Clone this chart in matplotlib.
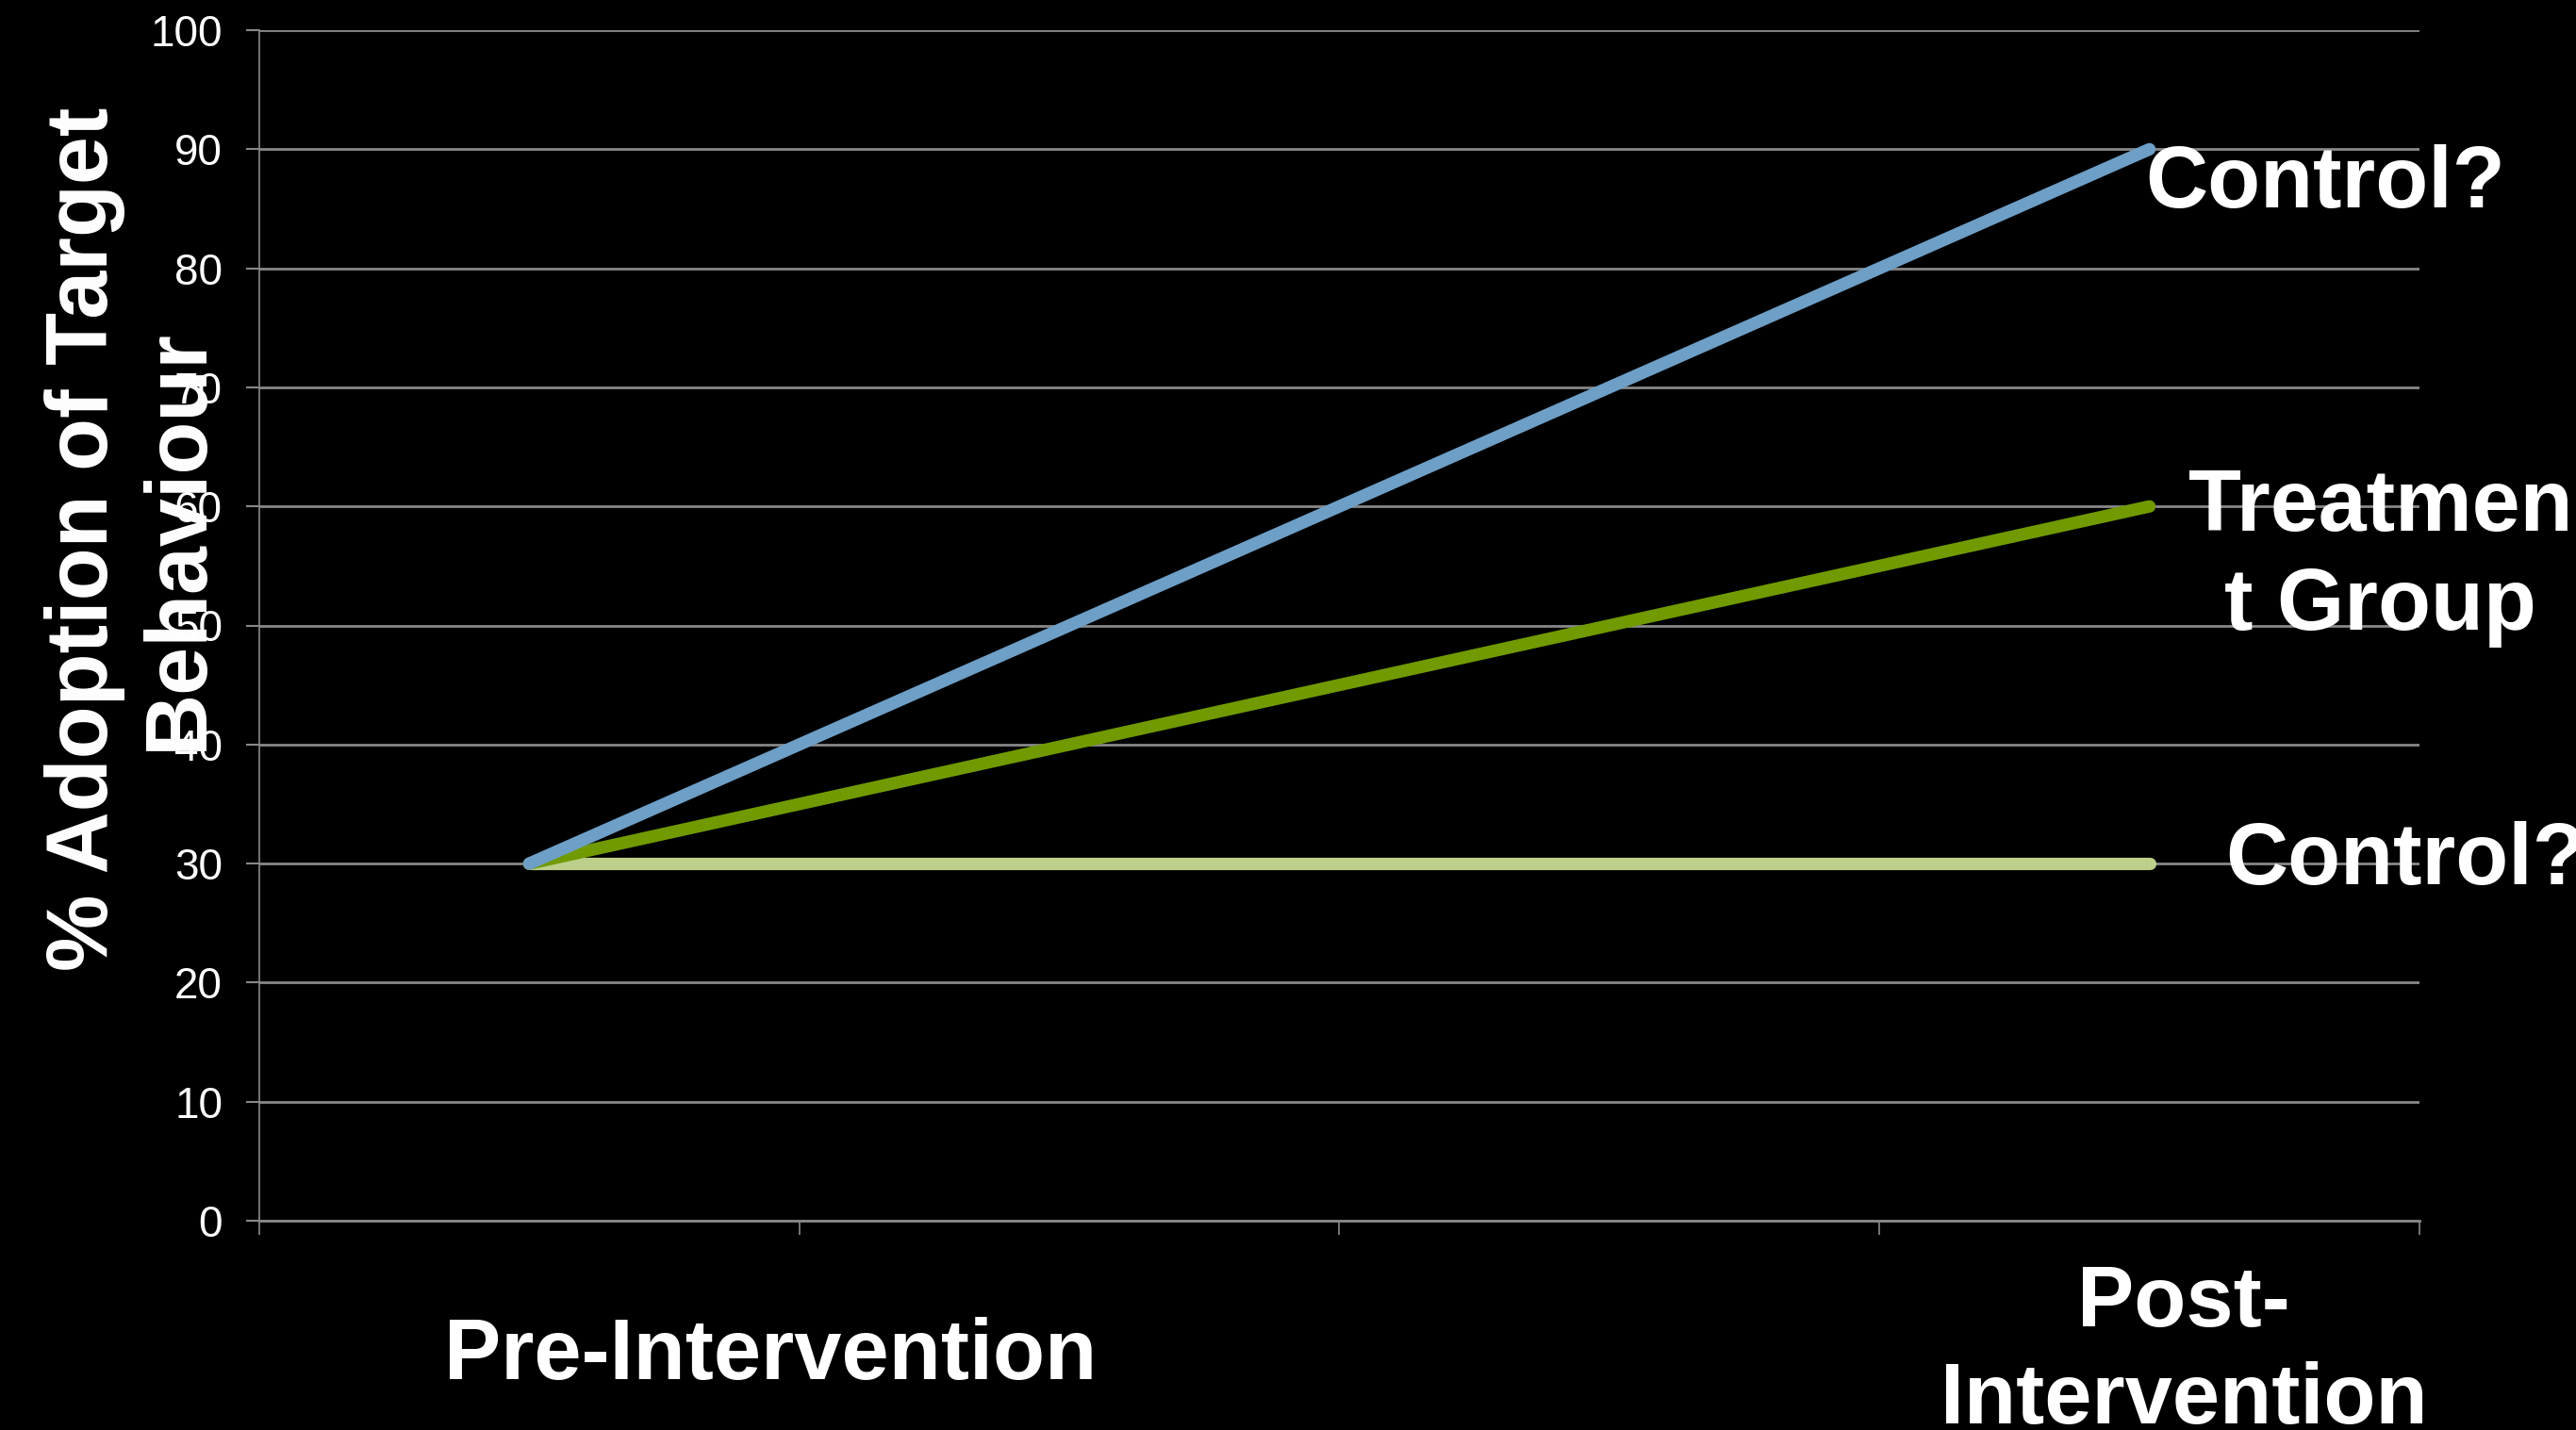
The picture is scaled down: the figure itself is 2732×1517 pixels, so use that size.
import matplotlib.pyplot as plt
import numpy as np

plt.rcParams['font.family'] = ['Liberation Sans', 'DejaVu Sans']

# four evenly spaced time points, only the first and last are named
stages = ['', '', '', '']
control_up = [30, 50, 70, 90]
treatment = [30, 40, 50, 60]
control_flat = [30, 30, 30, 30]

yticks = list(range(0, 101, 10))

W, H = 2732, 1517
fig = plt.figure(figsize=(W / 100, H / 100), dpi=100, facecolor='black')
ax = fig.add_axes([275 / W, 1 - 1295 / H, (2566 - 275) / W, (1295 - 32) / H])
ax.set_facecolor('black')

x = np.arange(len(stages))
ax.plot(x, control_flat, color='#bccf8b', lw=9.5, solid_capstyle='round', zorder=3)
ax.plot(x, treatment, color='#709a00', lw=9.5, solid_capstyle='round', zorder=4)
ax.plot(x, control_up, color='#6d9fc7', lw=9.5, solid_capstyle='round', zorder=5)

ax.set_xlim(-0.5, len(stages) - 0.5)
ax.set_ylim(0, 100)
ax.set_xticks(np.arange(-0.5, len(stages), 1.0))
ax.set_xticklabels([])
ax.set_yticks(yticks)
ax.set_yticklabels([str(v) for v in yticks])
ax.yaxis.grid(True, color='#888888', lw=2)
ax.set_axisbelow(True)

for side in ['top', 'right']:
    ax.spines[side].set_visible(False)
for side in ['left', 'bottom']:
    ax.spines[side].set_color('#888888')
ax.spines['left'].set_linewidth(1.2)
ax.spines['bottom'].set_linewidth(2)
ax.tick_params(axis='y', colors='#888888', length=10, width=1.5, pad=18,
               labelcolor='white', labelsize=33)
ax.tick_params(axis='x', colors='#888888', length=11, width=1.2)

# end-of-line group labels
lab = dict(color='white', fontsize=66, fontweight='bold', annotation_clip=False,
           textcoords='offset pixels')
ax.annotate('Control?', (x[-1], control_up[-1]), xytext=(-4, -62),
            ha='left', va='baseline', **lab)
ax.annotate('Treatmen\nt Group', (x[-1], treatment[-1]), xytext=(245, -54),
            ha='center', va='center', multialignment='center', linespacing=1.28, **lab)
ax.annotate('Control?', (x[-1], control_flat[-1]), xytext=(81, -22),
            ha='left', va='baseline', **lab)

fig.text(140 / W, 1 - 572 / H, '% Adoption of Target\nBehaviour', rotation=90,
         ha='center', va='center', multialignment='center', linespacing=1.22,
         color='white', fontsize=66, fontweight='bold')
fig.text(817 / W, 1 - 1463 / H, 'Pre-Intervention', ha='center', va='baseline',
         color='white', fontsize=65, fontweight='bold')
fig.text(2316 / W, 1 - 1435 / H, 'Post-\nIntervention', ha='center', va='center',
         multialignment='center', linespacing=1.28,
         color='white', fontsize=65, fontweight='bold')

fig.savefig('out.png', dpi=100, facecolor='black')
